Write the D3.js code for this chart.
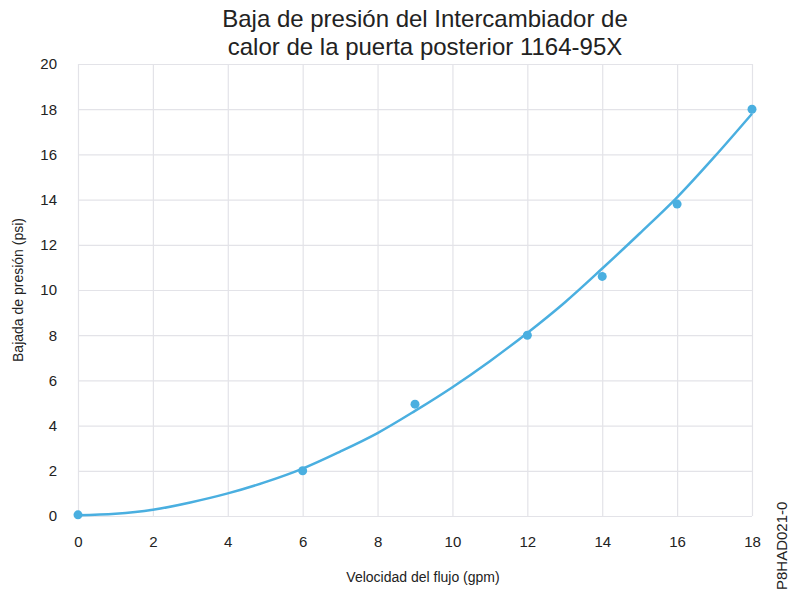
<!DOCTYPE html>
<html>
<head>
<meta charset="utf-8">
<script src="https://cdn.jsdelivr.net/npm/d3@7"></script>
<style>
  body { margin: 0; background: #fff; }
  text { font-family: "Liberation Sans", Arial, sans-serif; fill: #222; }
</style>
</head>
<body>
<svg width="789" height="590"></svg>
<script>
// measured points
var flowGpm = [0, 6, 9, 12, 14, 16, 18];
var dropPsi = [0.05, 2, 4.95, 8, 10.6, 13.8, 18];

// trend line
var trendX = [0, 1, 2, 3, 4, 5, 6, 7, 8, 9, 10, 11, 12, 13, 14, 15, 16, 17, 18];
var trendY = [0.03, 0.1, 0.28, 0.6, 1.0, 1.5, 2.1, 2.85, 3.67, 4.65, 5.7, 6.85, 8.1, 9.45, 10.95, 12.5, 14.1, 15.9, 17.8];

var xTicks = [0, 2, 4, 6, 8, 10, 12, 14, 16, 18];
var yTicks = [0, 2, 4, 6, 8, 10, 12, 14, 16, 18, 20];

var svg = d3.select('svg'),
	margin = {top: 64, right: 37, bottom: 74, left: 78},
	width = 789 - margin.left - margin.right,
	height = 590 - margin.top - margin.bottom,
	g = svg.append('g').attr('transform', 'translate(' + margin.left + ',' + margin.top + ')');

var x = d3.scaleLinear().domain([0, 18]).range([0, width]);
var y = d3.scaleLinear().domain([0, 20]).range([height, 0]);

// grid
g.append('g')
	.attr('transform', 'translate(0,' + height + ')')
	.call(d3.axisBottom(x).tickValues(xTicks).tickSize(-height).tickFormat(''))
	.call(function(s){
		s.select('.domain').remove();
		s.selectAll('line').attr('stroke', '#e3e3e8').attr('stroke-width', 1.2);
	});

g.append('g')
	.call(d3.axisLeft(y).tickValues(yTicks).tickSize(-width).tickFormat(''))
	.call(function(s){
		s.select('.domain').remove();
		s.selectAll('line').attr('stroke', '#e3e3e8').attr('stroke-width', 1.2);
	});

// tick labels
g.append('g')
	.attr('transform', 'translate(0,' + height + ')')
	.call(d3.axisBottom(x).tickValues(xTicks).tickSize(0).tickPadding(20))
	.call(function(s){
		s.select('.domain').remove();
		s.selectAll('text').style('font-size', '15px').attr('fill', '#222');
	});

g.append('g')
	.call(d3.axisLeft(y).tickValues(yTicks).tickSize(0).tickPadding(21))
	.call(function(s){
		s.select('.domain').remove();
		s.selectAll('text').style('font-size', '15px').attr('fill', '#222');
	});

// trend line
var trend = trendX.map(function(d, i){ return {x: d, y: trendY[i]}; });
var line = d3.line()
	.x(function(d){ return x(d.x); })
	.y(function(d){ return y(d.y); })
	.curve(d3.curveCatmullRom);

g.append('path')
	.datum(trend)
	.attr('d', line)
	.attr('fill', 'none')
	.attr('stroke', '#4aafe0')
	.attr('stroke-width', 2.5);

// points
var pts = flowGpm.map(function(d, i){ return {x: d, y: dropPsi[i]}; });
g.selectAll('.pt')
	.data(pts)
	.enter().append('circle')
		.attr('class', 'pt')
		.attr('cx', function(d){ return x(d.x); })
		.attr('cy', function(d){ return y(d.y); })
		.attr('r', 4.5)
		.attr('fill', '#4aafe0');

// titles
svg.append('text')
	.attr('x', 425).attr('y', 27)
	.attr('text-anchor', 'middle')
	.style('font-size', '24px')
	.text('Baja de presión del Intercambiador de');
svg.append('text')
	.attr('x', 425).attr('y', 55)
	.attr('text-anchor', 'middle')
	.style('font-size', '24px')
	.text('calor de la puerta posterior 1164-95X');

svg.append('text')
	.attr('x', 423).attr('y', 582)
	.attr('text-anchor', 'middle')
	.style('font-size', '14px')
	.text('Velocidad del flujo (gpm)');

svg.append('text')
	.attr('transform', 'translate(23,290) rotate(-90)')
	.attr('text-anchor', 'middle')
	.style('font-size', '14px')
	.text('Bajada de presión (psi)');

svg.append('text')
	.attr('transform', 'translate(787,590) rotate(-90)')
	.attr('text-anchor', 'start')
	.style('font-size', '15px')
	.text('P8HAD021-0');
</script>
</body>
</html>
